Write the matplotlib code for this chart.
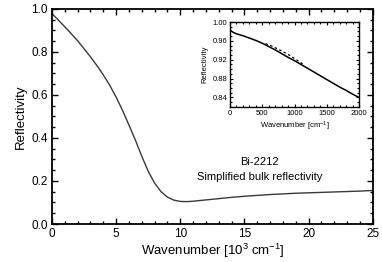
import matplotlib
matplotlib.use('Agg')
import matplotlib.pyplot as plt
from matplotlib.ticker import MultipleLocator, FormatStrFormatter

plt.rcParams['font.family'] = ['Liberation Sans', 'DejaVu Sans']
plt.rcParams['mathtext.default'] = 'regular'

# main curve: wavenumber [10^3 cm^-1] vs reflectivity
wn = [0.0, 0.5, 1.0, 1.5, 2.0, 2.5, 3.0, 3.5, 4.0, 4.5, 5.0, 5.5, 6.0, 6.5, 7.0,
      7.5, 8.0, 8.5, 9.0, 9.5, 10.0, 10.5, 11.0, 12.0, 13.0, 14.0, 15.0, 16.0,
      17.0, 18.0, 19.0, 20.0, 21.0, 22.0, 23.0, 24.0, 25.0]
refl = [0.978, 0.948, 0.917, 0.885, 0.852, 0.815, 0.777, 0.737, 0.693, 0.645,
        0.59, 0.528, 0.46, 0.39, 0.315, 0.245, 0.19, 0.15, 0.125, 0.111, 0.105,
        0.104, 0.106, 0.112, 0.118, 0.124, 0.129, 0.133, 0.137, 0.14, 0.143,
        0.145, 0.147, 0.149, 0.151, 0.153, 0.156]

# inset: far-infrared part
wn_ir = [0, 50, 100, 200, 300, 400, 500, 600, 700, 800, 900, 1000, 1100, 1200,
         1300, 1400, 1500, 1600, 1700, 1800, 1900, 2000]
refl_ir = [0.983, 0.978, 0.975, 0.971, 0.966, 0.961, 0.955, 0.948, 0.941, 0.933,
           0.925, 0.918, 0.910, 0.902, 0.894, 0.886, 0.878, 0.870, 0.862, 0.855,
           0.847, 0.840]
wn_dash = [550, 650, 750, 850, 950, 1050, 1150]
refl_dash = [0.954, 0.949, 0.942, 0.935, 0.927, 0.918, 0.909]

fig = plt.figure(figsize=(3.82, 2.62), dpi=100)
ax = fig.add_axes([0.136, 0.145, 0.840, 0.821])
ax.plot(wn, refl, color='#3a3a3a', lw=1.0)
ax.set_xlim(0, 25)
ax.set_ylim(0, 1.0)
ax.xaxis.set_major_locator(MultipleLocator(5))
ax.xaxis.set_minor_locator(MultipleLocator(1))
ax.yaxis.set_major_locator(MultipleLocator(0.2))
ax.yaxis.set_minor_locator(MultipleLocator(0.05))
ax.yaxis.set_major_formatter(FormatStrFormatter('%.1f'))
ax.tick_params(which='both', direction='in', top=True, right=True, width=1.0)
ax.tick_params(which='major', length=4, labelsize=8.5, pad=3)
ax.tick_params(which='minor', length=2)
for s in ax.spines.values():
    s.set_linewidth(1.3)
ax.set_xlabel('Wavenumber [10$^{3}$ cm$^{-1}$]', fontsize=9.5, labelpad=1)
ax.set_ylabel('Reflectivity', fontsize=9.5, labelpad=3)
ax.text(16.2, 0.29, 'Bi-2212', ha='center', va='center', fontsize=8)
ax.text(16.2, 0.22, 'Simplified bulk reflectivity', ha='center', va='center', fontsize=8)

axi = fig.add_axes([0.602, 0.592, 0.338, 0.324])
axi.plot(wn_ir, refl_ir, color='black', lw=1.1)
axi.plot(wn_dash, refl_dash, color='black', lw=0.9, ls=(0, (2, 2)))
axi.set_xlim(0, 2000)
axi.set_ylim(0.82, 1.0)
axi.xaxis.set_major_locator(MultipleLocator(500))
axi.xaxis.set_minor_locator(MultipleLocator(100))
axi.yaxis.set_major_locator(MultipleLocator(0.04))
axi.yaxis.set_minor_locator(MultipleLocator(0.01))
axi.yaxis.set_major_formatter(FormatStrFormatter('%.2f'))
axi.tick_params(which='both', direction='in', top=True, right=True, width=0.8)
axi.tick_params(which='major', length=2.5, labelsize=5.5, pad=2)
axi.tick_params(which='minor', length=1.3)
for s in axi.spines.values():
    s.set_linewidth(1.0)
axi.set_xlabel('Wavenumber [cm$^{-1}$]', fontsize=5.5, labelpad=2)
axi.set_ylabel('Reflectivity', fontsize=5.5, labelpad=3)

fig.savefig('out.png', dpi=100)
